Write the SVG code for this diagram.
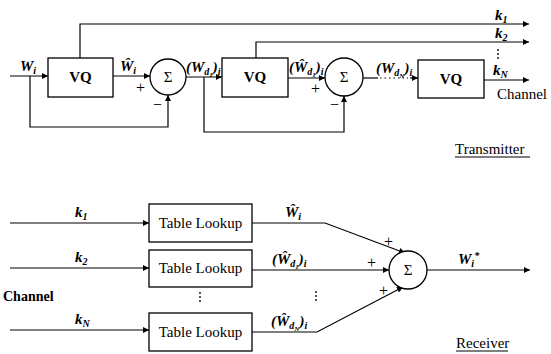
<svg xmlns="http://www.w3.org/2000/svg" width="551" height="354" viewBox="0 0 551 354">
<style>
.ln{fill:none;stroke:#000;stroke-width:1.2}
.bx{fill:#fff;stroke:#000;stroke-width:1.3}
.dt{fill:none;stroke:#000;stroke-width:1.2;stroke-dasharray:1.5 3}
</style>
<defs>
<marker id="ah" viewBox="0 0 10 10" refX="10" refY="5" markerWidth="7" markerHeight="6" orient="auto" markerUnits="userSpaceOnUse">
<path d="M0,0L10,5L0,10z" fill="#000"/>
</marker>
</defs>
<g id="connectors">
<path class="ln" d="M10,76H48" marker-end="url(#ah)"/>
<path class="ln" d="M113,76H150" marker-end="url(#ah)"/>
<path class="ln" d="M30,76V127H168V95" marker-end="url(#ah)"/>
<path class="ln" d="M80,58V24H529" marker-end="url(#ah)"/>
<path class="ln" d="M186,77H222" marker-end="url(#ah)"/>
<path class="ln" d="M204,77V132H344V96" marker-end="url(#ah)"/>
<path class="ln" d="M256,58V42H529" marker-end="url(#ah)"/>
<path class="ln" d="M288,78H325" marker-end="url(#ah)"/>
<path class="ln" d="M363,78H378"/>
<path class="dt" d="M380,78H408"/>
<path class="ln" d="M410,78H418" marker-end="url(#ah)"/>
<path class="ln" d="M484,80H529" marker-end="url(#ah)"/>
<path class="ln" d="M10,223H149" marker-end="url(#ah)"/>
<path class="ln" d="M10,268H149" marker-end="url(#ah)"/>
<path class="ln" d="M10,330H149" marker-end="url(#ah)"/>
<path class="ln" d="M252,223H325L405,253" marker-end="url(#ah)"/>
<path class="ln" d="M252,270H389" marker-end="url(#ah)"/>
<path class="ln" d="M252,332H317L403,287" marker-end="url(#ah)"/>
<path class="ln" d="M427,270H530" marker-end="url(#ah)"/>
</g>
<g id="vq1"><rect class="bx" x="48" y="58" width="65" height="39"/><text font-family="Liberation Serif" font-size="15" font-weight="bold" x="80.5" y="82" text-anchor="middle">VQ</text></g>
<g id="sum1"><circle class="bx" cx="168" cy="77" r="18"/><text font-family="Liberation Serif" font-size="15" x="168" y="82" text-anchor="middle">Σ</text></g>
<g id="vq2"><rect class="bx" x="222" y="58" width="66" height="39"/><text font-family="Liberation Serif" font-size="15" font-weight="bold" x="255" y="82" text-anchor="middle">VQ</text></g>
<g id="sum2"><circle class="bx" cx="344" cy="77" r="19"/><text font-family="Liberation Serif" font-size="15" x="344" y="82" text-anchor="middle">Σ</text></g>
<g id="vq3"><rect class="bx" x="418" y="60" width="66" height="38"/><text font-family="Liberation Serif" font-size="15" font-weight="bold" x="451" y="84" text-anchor="middle">VQ</text></g>
<g id="tl1"><rect class="bx" x="149" y="204" width="103" height="38"/><text font-family="Liberation Serif" font-size="15" x="200.5" y="228" text-anchor="middle">Table Lookup</text></g>
<g id="tl2"><rect class="bx" x="149" y="250" width="103" height="37"/><text font-family="Liberation Serif" font-size="15" x="200.5" y="273" text-anchor="middle">Table Lookup</text></g>
<g id="tl3"><rect class="bx" x="149" y="313" width="103" height="38"/><text font-family="Liberation Serif" font-size="15" x="200.5" y="337" text-anchor="middle">Table Lookup</text></g>
<g id="sum3"><circle class="bx" cx="408" cy="270" r="19"/><text font-family="Liberation Serif" font-size="15" x="408" y="275" text-anchor="middle">Σ</text></g>
<g id="labels">
<text font-family="Liberation Serif" font-size="15" font-style="italic" font-weight="bold" x="20" y="71">W<tspan font-size="10" dy="3">i</tspan></text>
<text font-family="Liberation Serif" font-size="15" font-style="italic" font-weight="bold" x="120" y="71">Ŵ<tspan font-size="10" dy="3">i</tspan></text>
<text font-family="Liberation Serif" font-size="16" x="136" y="93">+</text>
<text font-family="Liberation Serif" font-size="16" x="153" y="110">−</text>
<text font-family="Liberation Serif" font-size="15" font-style="italic" font-weight="bold" x="186" y="72">(W<tspan font-size="10" dy="3">d</tspan><tspan font-size="7" dy="2">1</tspan><tspan dy="-5">)</tspan><tspan font-size="10" dy="3">i</tspan></text>
<text font-family="Liberation Serif" font-size="15" font-style="italic" font-weight="bold" x="289" y="72">(Ŵ<tspan font-size="10" dy="3">d</tspan><tspan font-size="7" dy="2">1</tspan><tspan dy="-5">)</tspan><tspan font-size="10" dy="3">i</tspan></text>
<text font-family="Liberation Serif" font-size="16" x="311" y="94">+</text>
<text font-family="Liberation Serif" font-size="16" x="330" y="110">−</text>
<text font-family="Liberation Serif" font-size="15" font-style="italic" font-weight="bold" x="376" y="73">(W<tspan font-size="10" dy="3">d</tspan><tspan font-size="7" dy="2">N</tspan><tspan dy="-5">)</tspan><tspan font-size="10" dy="3">i</tspan></text>
<text font-family="Liberation Serif" font-size="15" font-style="italic" font-weight="bold" x="495" y="20">k<tspan font-size="10" dy="3">1</tspan></text>
<text font-family="Liberation Serif" font-size="15" font-style="italic" font-weight="bold" x="495" y="38">k<tspan font-size="10" dy="3">2</tspan></text>
<text font-family="Liberation Serif" font-size="15" font-style="italic" font-weight="bold" x="493" y="75">k<tspan font-size="10" dy="3">N</tspan></text>
<g fill="#000"><circle cx="498" cy="50" r="0.9"/><circle cx="498" cy="54" r="0.9"/><circle cx="498" cy="58" r="0.9"/></g>
<text font-family="Liberation Serif" font-size="15" x="497" y="99">Channel</text>
<text font-family="Liberation Serif" font-size="15" x="455" y="154">Transmitter</text>
<path class="ln" d="M455,157H530" stroke-width="0.8"/>
<text font-family="Liberation Serif" font-size="15" font-style="italic" font-weight="bold" x="75" y="217">k<tspan font-size="10" dy="3">1</tspan></text>
<text font-family="Liberation Serif" font-size="15" font-style="italic" font-weight="bold" x="75" y="262">k<tspan font-size="10" dy="3">2</tspan></text>
<text font-family="Liberation Serif" font-size="15" font-style="italic" font-weight="bold" x="75" y="324">k<tspan font-size="10" dy="3">N</tspan></text>
<text font-family="Liberation Serif" font-size="14" font-weight="bold" x="3" y="301">Channel</text>
<g fill="#000"><circle cx="200" cy="293" r="0.9"/><circle cx="200" cy="297" r="0.9"/><circle cx="200" cy="301" r="0.9"/><circle cx="316" cy="292" r="0.9"/><circle cx="316" cy="296" r="0.9"/><circle cx="316" cy="300" r="0.9"/></g>
<text font-family="Liberation Serif" font-size="15" font-style="italic" font-weight="bold" x="285" y="217">Ŵ<tspan font-size="10" dy="3">i</tspan></text>
<text font-family="Liberation Serif" font-size="15" font-style="italic" font-weight="bold" x="272" y="264">(Ŵ<tspan font-size="10" dy="3">d</tspan><tspan font-size="7" dy="2">1</tspan><tspan dy="-5">)</tspan><tspan font-size="10" dy="3">i</tspan></text>
<text font-family="Liberation Serif" font-size="15" font-style="italic" font-weight="bold" x="271" y="326">(Ŵ<tspan font-size="10" dy="3">d</tspan><tspan font-size="7" dy="2">N</tspan><tspan dy="-5">)</tspan><tspan font-size="10" dy="3">i</tspan></text>
<text font-family="Liberation Serif" font-size="16" x="384" y="247">+</text>
<text font-family="Liberation Serif" font-size="16" x="367" y="268">+</text>
<text font-family="Liberation Serif" font-size="16" x="379" y="296">+</text>
<text font-family="Liberation Serif" font-size="15" font-style="italic" font-weight="bold" x="458" y="264">W<tspan font-size="10" dy="3">i</tspan><tspan font-size="10" dy="-8">*</tspan></text>
<text font-family="Liberation Serif" font-size="15" x="456" y="348">Receiver</text>
<path class="ln" d="M456,351H508" stroke-width="0.8"/>
</g>
</svg>
